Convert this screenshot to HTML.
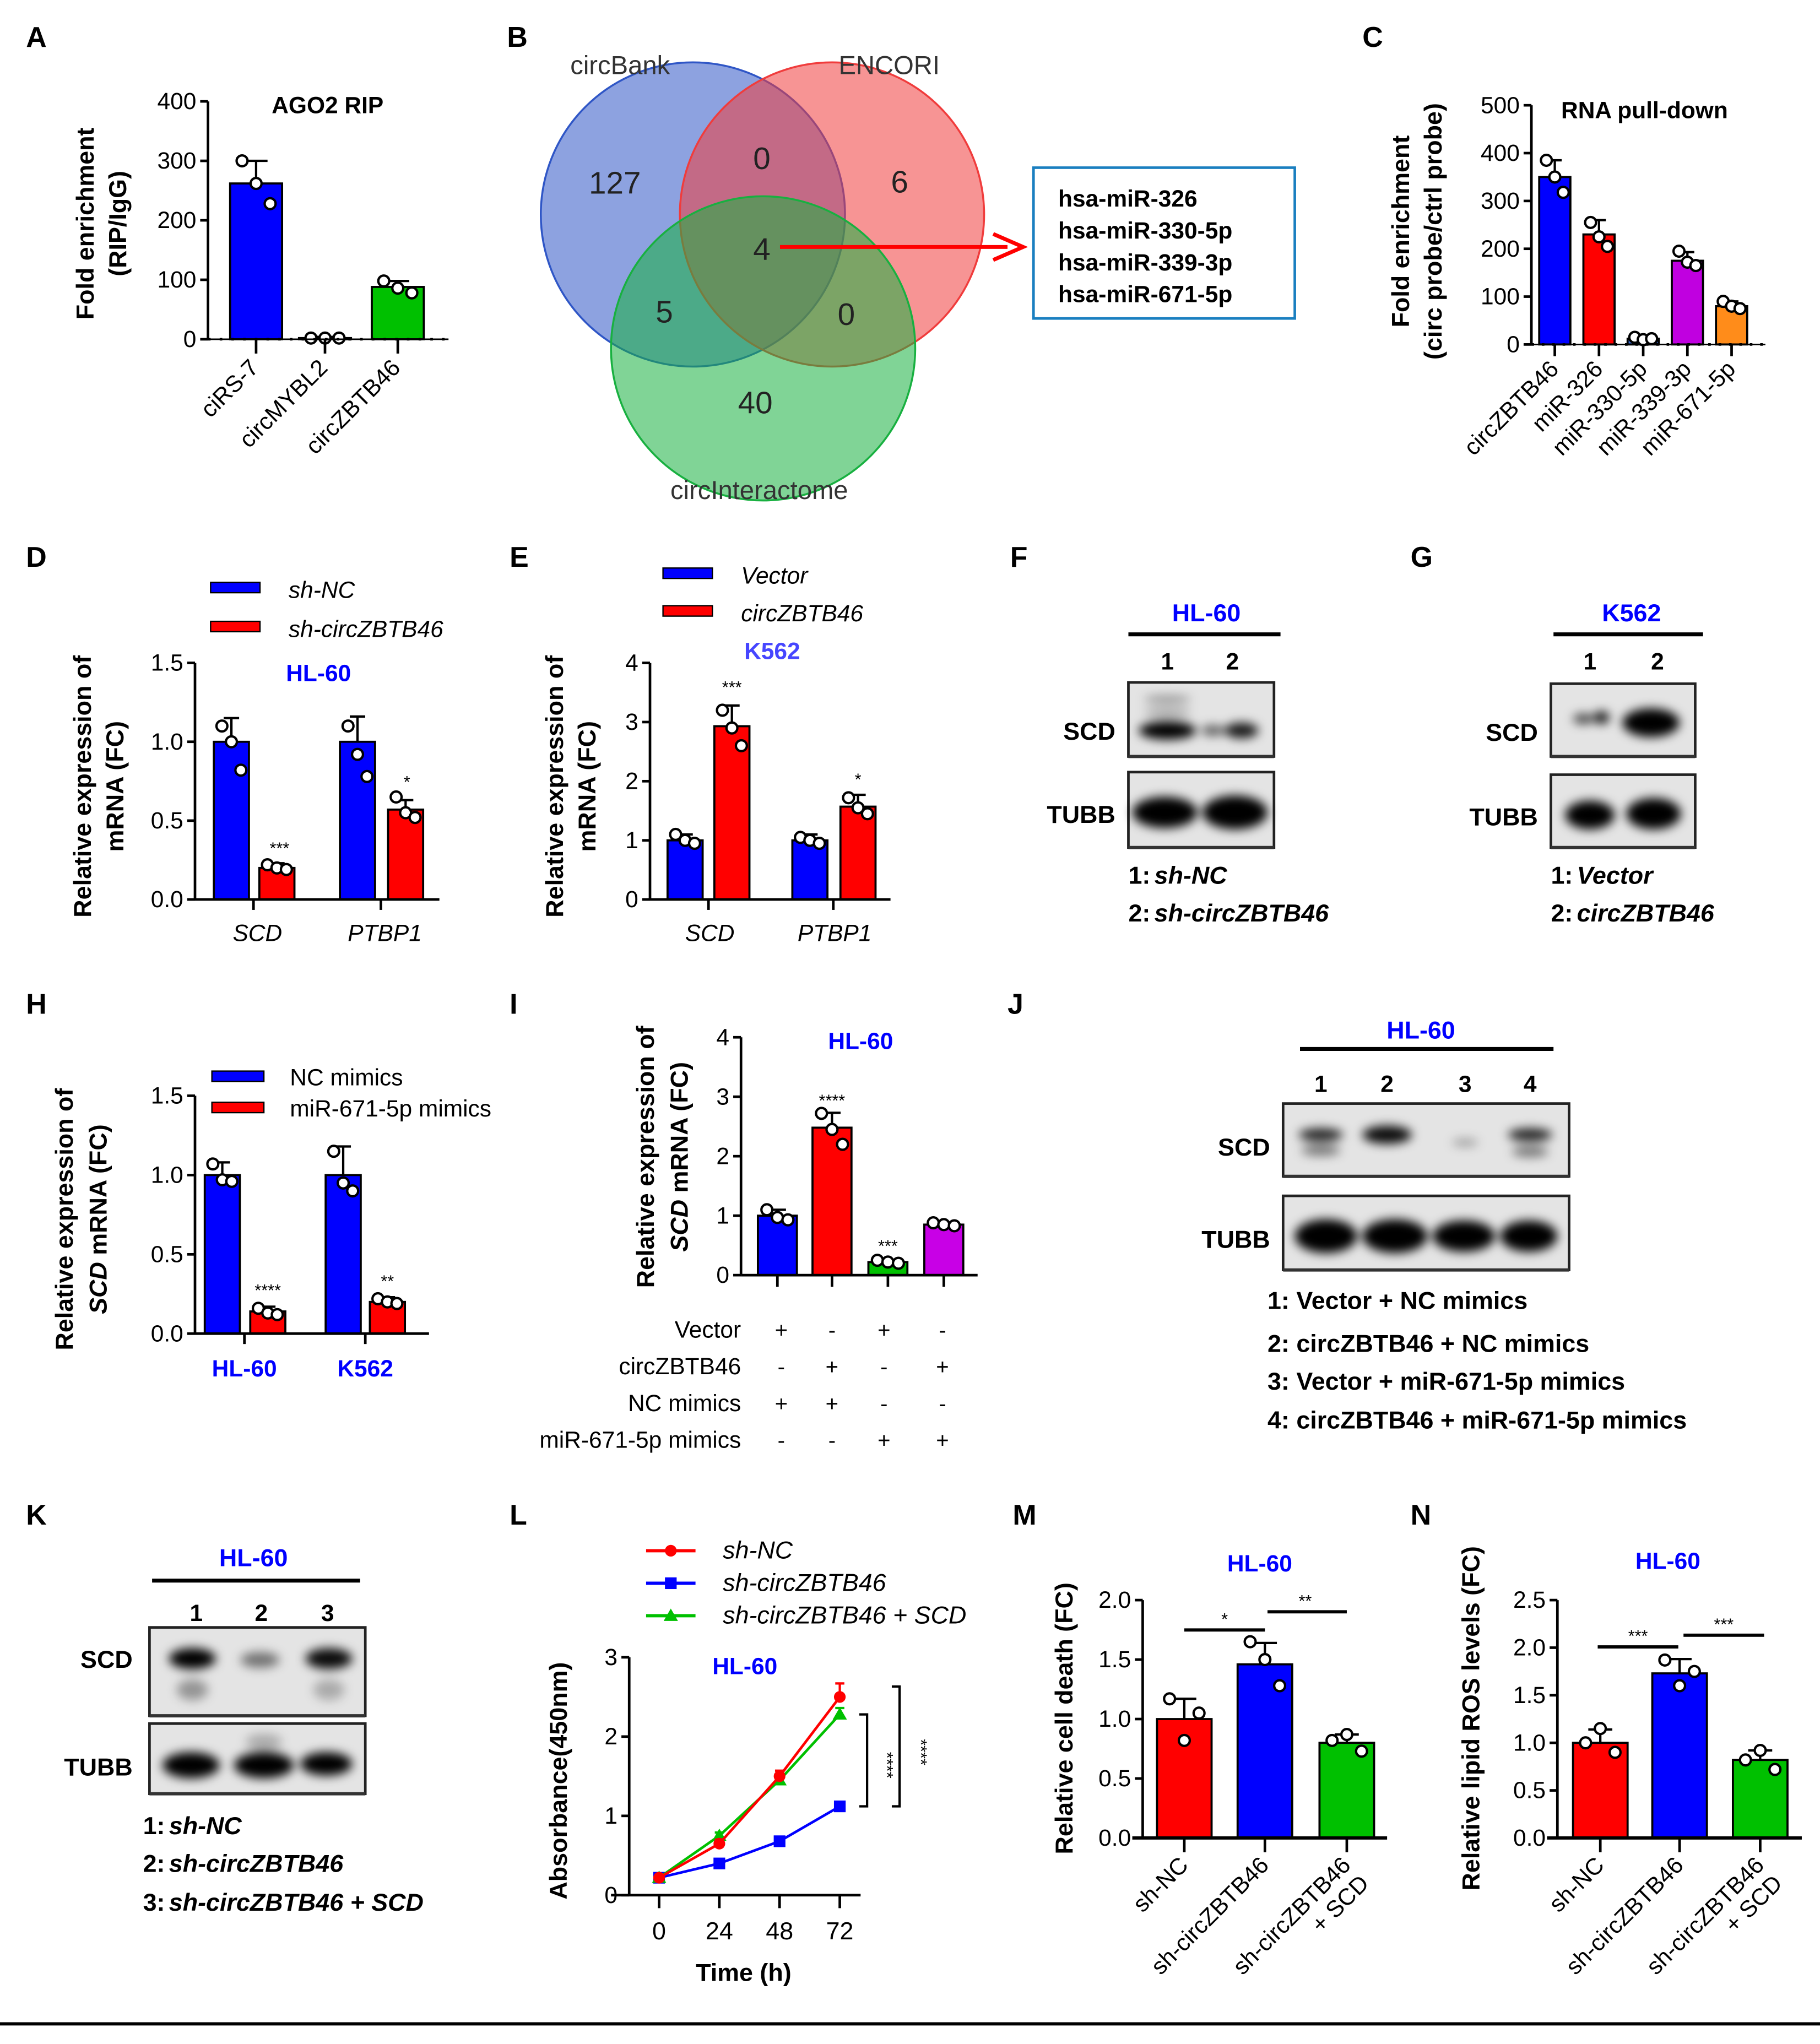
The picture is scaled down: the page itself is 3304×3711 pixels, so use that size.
<!DOCTYPE html>
<html><head><meta charset="utf-8">
<style>
html,body{margin:0;padding:0;background:#fff;}
svg{display:block;}
text{font-family:"Liberation Sans",Arial,sans-serif;}
</style></head>
<body>
<svg id="fig" xmlns="http://www.w3.org/2000/svg" width="3304" height="3711" viewBox="0 0 1400 1572.5" preserveAspectRatio="none">
<defs>
<filter id="blur2" x="-50%" y="-50%" width="200%" height="200%"><feGaussianBlur stdDeviation="2.2"/></filter>
<filter id="blur4" x="-50%" y="-50%" width="200%" height="200%"><feGaussianBlur stdDeviation="4"/></filter>
</defs>
</svg>
<script>
// ---------- data ----------
const aCats=['ciRS-7','circMYBL2','circZBTB46'];
const aVals=[262,2,88];
const aErr=[38,2,10];
const aPts=[[300,262,228],[2,2,2],[98,86,78]];
const aTicks=[0,100,200,300,400];

const cCats=['circZBTB46','miR-326','miR-330-5p','miR-339-3p','miR-671-5p'];
const cVals=[350,230,12,175,80];
const cErr=[35,30,5,18,10];
const cPts=[[385,350,318],[255,225,205],[15,10,12],[195,172,165],[90,80,75]];
const cTicks=[0,100,200,300,400,500];

const dCats=['SCD','PTBP1'];
const dVals=[1.0,0.2,1.0,0.57];
const dErr=[0.15,0.03,0.16,0.06];
const dPts=[[1.1,1.0,0.82],[0.22,0.2,0.19],[1.1,0.92,0.78],[0.65,0.55,0.52]];
const dTicks=[0,0.5,1.0,1.5];

const eCats=['SCD','PTBP1'];
const eVals=[1.0,2.93,1.0,1.57];
const eErr=[0.1,0.35,0.1,0.2];
const ePts=[[1.1,1.0,0.95],[3.2,2.9,2.6],[1.05,1.0,0.95],[1.72,1.55,1.45]];
const eTicks=[0,1,2,3,4];

const hCats=['HL-60','K562'];
const hVals=[1.0,0.14,1.0,0.2];
const hErr=[0.08,0.03,0.18,0.03];
const hPts=[[1.07,0.97,0.96],[0.16,0.13,0.12],[1.15,0.95,0.9],[0.22,0.2,0.19]];
const hTicks=[0,0.5,1.0,1.5];

const iVals=[1.0,2.48,0.22,0.85];
const iErr=[0.1,0.25,0.03,0.03];
const iPts=[[1.1,0.97,0.93],[2.72,2.45,2.2],[0.25,0.22,0.2],[0.88,0.85,0.83]];
const iTicks=[0,1,2,3,4];
const iRows=['Vector','circZBTB46','NC mimics','miR-671-5p mimics'];
const iSigns=[['+','-','+','-'],['-','+','-','+'],['+','+','-','-'],['-','-','+','+']];

const lTimes=[0,24,48,72];
const lRed=[0.22,0.65,1.5,2.5];
const lBlue=[0.22,0.4,0.68,1.12];
const lGreen=[0.22,0.75,1.45,2.28];
const lRedErr=[0.02,0.05,0.07,0.17];
const lBlueErr=[0.02,0.04,0.05,0.05];
const lGreenErr=[0.02,0.04,0.05,0.08];
const lTicks=[0,1,2,3];

const mCats=['sh-NC','sh-circZBTB46','sh-circZBTB46 + SCD'];
const mVals=[1.0,1.46,0.8];
const mErr=[0.17,0.18,0.07];
const mPts=[[1.17,0.82,1.05],[1.65,1.5,1.28],[0.82,0.87,0.73]];
const mTicks=[0,0.5,1.0,1.5,2.0];

const nCats=['sh-NC','sh-circZBTB46','sh-circZBTB46 + SCD'];
const nVals=[1.0,1.73,0.82];
const nErr=[0.14,0.15,0.1];
const nPts=[[1.0,1.15,0.9],[1.87,1.6,1.75],[0.82,0.92,0.72]];
const nTicks=[0,0.5,1.0,1.5,2.0,2.5];

// ---------- helpers ----------
const NS='http://www.w3.org/2000/svg';
const svg=document.getElementById('fig');
function mk(tag,attrs,parent){
  const e=document.createElementNS(NS,tag);
  for(const k in attrs) e.setAttribute(k,attrs[k]);
  (parent||svg).appendChild(e);
  return e;
}
function txt(s,x,y,size,opts,name){
  opts=opts||{};
  const t=mk('text',{x:x,y:y,'font-size':size,'text-anchor':opts.anchor||'start',fill:opts.fill||'#000','font-weight':opts.bold?'bold':'normal','font-style':opts.italic?'italic':'normal'});
  if(opts.rot!==undefined) t.setAttribute('transform','rotate('+opts.rot+' '+x+' '+y+')');
  if(opts.ls) t.setAttribute('letter-spacing',opts.ls);
  t.textContent=s;
  
  
  return t;
}
function line(x1,y1,x2,y2,w,col,name,dash){
  const l=mk('line',{x1:x1,y1:y1,x2:x2,y2:y2,stroke:col||'#000','stroke-width':w||2});
  if(dash) l.setAttribute('stroke-dasharray',dash);
  
  
  return l;
}
function rect(x,y,w,h,fill,name,stroke,sw){
  const r=mk('rect',{x:x,y:y,width:w,height:h,fill:fill,stroke:stroke||'none','stroke-width':sw||0});
  
  
  return r;
}
function dot(x,y,name){
  const c=mk('circle',{cx:x,cy:y,r:4.2,fill:'#fff',stroke:'#000','stroke-width':1.8});
  
  
  return c;
}
function panelLetter(s,x,y){
  txt(s,x,y,22,{bold:true},'panel-label-'+s.toLowerCase());
}
function yAxis(x,yTop,yBot,vmax,ticks,fmt,name){
  const sc=v=>yBot-(v/vmax)*(yBot-yTop);
  line(x,yTop,x,yBot,2,'#000',name+'-y-axis');
  ticks.forEach(t=>{
    line(x-6,sc(t),x,sc(t),2,'#000',name+'-y-tick');
    txt(fmt(t),x-9,sc(t)+6,18,{anchor:'end'},name+'-y-tick-label');
  });
  return sc;
}
function bars(xs,vals,errs,pts,w,colors,sc,name){
  xs.forEach((cx,i)=>{
    const y0=sc(0), yv=sc(vals[i]);
    const ye=sc(vals[i]+errs[i]);
    line(cx,ye,cx,yv,1.8,'#000',name+'-error-bar');
    line(cx-w*0.22,ye,cx+w*0.22,ye,1.8,'#000',name+'-error-cap');
    const b=mk('rect',{x:cx-w/2,y:yv,width:w,height:Math.max(0,y0-yv),fill:colors[i],stroke:'#000','stroke-width':1.6});
    
    
    pts[i].forEach((p,j)=>dot(cx+(j-1)*w*0.27,sc(p),name+'-point'));
  });
}

// ---------- Panel A ----------
panelLetter('A',20,36);
{
  const sc=yAxis(160,78,261,400,aTicks,v=>String(v),'a');
  const xs=[197,250,306];
  bars(xs,aVals,aErr,aPts,40,['#0000ff','#0000ff','#00c000'],sc,'a');
  line(160,261,345,261,2,'#000','a-x-axis','2 7');
  line(160,261,345,261,1.2,'#000','a-x-axis-base');
  xs.forEach((x,i)=>{line(x,261,x,272,2,'#000','a-x-tick');txt(aCats[i],x+3,284,18,{anchor:'end',rot:-45},'a-x-label');});
  txt('AGO2 RIP',252,87,18,{bold:true,anchor:'middle'},'a-title');
  txt('Fold enrichment',72,172,19,{bold:true,anchor:'middle',rot:-90},'a-y-title');
  txt('(RIP/IgG)',97,172,19,{bold:true,anchor:'middle',rot:-90},'a-y-title-2');
}

// ---------- Panel B ----------
panelLetter('B',390,36);
{
  const circ=(cx,cy,col,nm)=>{const c=mk('circle',{cx:cx,cy:cy,r:117,fill:col,'fill-opacity':0.55,stroke:col,'stroke-width':1.5});};
  circ(533,165,'#2f56c6','venn-circbank');
  circ(640,165,'#f03c3c','venn-encori');
  circ(587,268,'#18b040','venn-circinteractome');
  txt('circBank',477,57,20,{anchor:'middle',fill:'#333'},'venn-label-circbank');
  txt('ENCORI',684,57,20,{anchor:'middle',fill:'#333'},'venn-label-encori');
  txt('circInteractome',584,384,20,{anchor:'middle',fill:'#333'},'venn-label-circinteractome');
  [['127',473,149],['0',586,130],['6',692,148],['4',586,200],['5',511,248],['0',651,250],['40',581,318]].forEach(a=>txt(a[0],a[1],a[2],24,{anchor:'middle',fill:'#222'},'venn-count'));
  line(600,190,775,190,3,'#ff0000','venn-arrow');
  const ar=mk('path',{d:'M764,180 L787,190 L764,200',fill:'none',stroke:'#ff0000','stroke-width':3});
  
  
  rect(795,129,201,116,'#fff','mirna-box','#1a7fc0',2);
  ['hsa-miR-326','hsa-miR-330-5p','hsa-miR-339-3p','hsa-miR-671-5p'].forEach((s,i)=>txt(s,814,159+i*24.5,18,{bold:true},'mirna-name'));
}

// ---------- Panel C ----------
panelLetter('C',1048,36);
{
  const sc=yAxis(1178,81,265,500,cTicks,v=>String(v),'c');
  const xs=[1196,1230,1264,1298,1332];
  bars(xs,cVals,cErr,cPts,24,['#0000ff','#ff0000','#3a6fe0','#c000e0','#ff8c1a'],sc,'c');
  line(1178,265,1358,265,1.2,'#000','c-x-axis');
  line(1178,265,1358,265,2,'#000','c-x-axis-dots','2 6');
  xs.forEach((x,i)=>{line(x,265,x,274,2,'#000','c-x-tick');txt(cCats[i],x+4,285,18,{anchor:'end',rot:-45},'c-x-label');});
  txt('RNA pull-down',1265,91,18,{bold:true,anchor:'middle'},'c-title');
  txt('Fold enrichment',1084,178,19,{bold:true,anchor:'middle',rot:-90},'c-y-title');
  txt('(circ probe/ctrl probe)',1109,178,19,{bold:true,anchor:'middle',rot:-90},'c-y-title-2');
}

// ---------- Panel D ----------
panelLetter('D',20,436);
{
  rect(162,448,38,8,'#0000ff','d-legend-swatch-blue','#000',1);
  txt('sh-NC',222,460,18,{italic:true},'d-legend-label');
  rect(162,478,38,8,'#ff0000','d-legend-swatch-red','#000',1);
  txt('sh-circZBTB46',222,490,18,{italic:true},'d-legend-label');
  const sc=yAxis(150,510,692,1.5,dTicks,v=>v.toFixed(1),'d');
  bars([178,213,275,312],dVals,dErr,dPts,27,['#0000ff','#ff0000','#0000ff','#ff0000'],sc,'d');
  line(150,692,338,692,2,'#000','d-x-axis');
  [[195,'SCD'],[293,'PTBP1']].forEach((a,i)=>{line(a[0],692,a[0],700,2,'#000','d-x-tick');txt(dCats[i],a[0]+3,724,18,{italic:true,anchor:'middle'},'d-x-label');});
  txt('HL-60',245,524,18,{bold:true,anchor:'middle',fill:'#0000ff'},'d-cell-line');
  txt('***',215,657,13,{anchor:'middle'},'d-sig');
  txt('*',313,606,13,{anchor:'middle'},'d-sig');
  txt('Relative expression of',70,605,19,{bold:true,anchor:'middle',rot:-90},'d-y-title');
  txt('mRNA (FC)',95,605,19,{bold:true,anchor:'middle',rot:-90},'d-y-title-2');
}

// ---------- Panel E ----------
panelLetter('E',392,436);
{
  rect(510,437,38,8,'#0000ff','e-legend-swatch-blue','#000',1);
  txt('Vector',570,449,18,{italic:true},'e-legend-label');
  rect(510,466,38,8,'#ff0000','e-legend-swatch-red','#000',1);
  txt('circZBTB46',570,478,18,{italic:true},'e-legend-label');
  txt('K562',594,507,18,{bold:true,anchor:'middle',fill:'#4646ff'},'e-cell-line');
  const sc=yAxis(500,510,692,4,eTicks,v=>String(v),'e');
  bars([527,563,623,660],eVals,eErr,ePts,27,['#0000ff','#ff0000','#0000ff','#ff0000'],sc,'e');
  line(500,692,685,692,2,'#000','e-x-axis');
  [[545,'SCD'],[641,'PTBP1']].forEach((a,i)=>{line(a[0],692,a[0],700,2,'#000','e-x-tick');txt(eCats[i],a[0]+1,724,18,{italic:true,anchor:'middle'},'e-x-label');});
  txt('***',563,533,13,{anchor:'middle'},'e-sig');
  txt('*',660,604,13,{anchor:'middle'},'e-sig');
  txt('Relative expression of',433,605,19,{bold:true,anchor:'middle',rot:-90},'e-y-title');
  txt('mRNA (FC)',458,605,19,{bold:true,anchor:'middle',rot:-90},'e-y-title-2');
}

// ---------- blot helper ----------
function blot(x,y,w,h,bands,name){
  rect(x,y,w,h,'#e4e4e4',name+'-membrane','#222',2);
  const g=mk('g',{filter:'url(#blur4)'});
  
  
  bands.forEach(b=>{
    const e=mk('ellipse',{cx:b[0],cy:b[1],rx:b[2],ry:b[3],fill:'#000','fill-opacity':b[4]},g);
    
    
  });
  line(x,y+h,x+w,y+h,2.5,'#333',name+'-edge');
}

// ---------- Panel F ----------
panelLetter('F',777,436);
{
  txt('HL-60',928,478,19,{bold:true,anchor:'middle',fill:'#0000ff'},'f-cell-line');
  line(868,488,985,488,3,'#000','f-bar');
  txt('1',898,515,18,{bold:true,anchor:'middle'},'f-lane');
  txt('2',948,515,18,{bold:true,anchor:'middle'},'f-lane');
  blot(868,525,112,57,[[898,562,22,7,1],[898,538,18,3,0.35],[898,548,18,3,0.3],[933,562,9,4,0.6],[955,562,13,6,0.9]],'f-scd');
  blot(868,594,112,58,[[896,625,25,12,1],[950,625,25,13,1]],'f-tubb');
  txt('SCD',858,569,19,{bold:true,anchor:'end'},'f-scd-label');
  txt('TUBB',858,633,19,{bold:true,anchor:'end'},'f-tubb-label');
  txt('1: ',868,680,19,{bold:true},'f-key');
  txt('sh-NC',888,680,19,{bold:true,italic:true},'f-key');
  txt('2: ',868,709,19,{bold:true},'f-key');
  txt('sh-circZBTB46',888,709,19,{bold:true,italic:true},'f-key');
}

// ---------- Panel G ----------
panelLetter('G',1085,436);
{
  txt('K562',1255,478,19,{bold:true,anchor:'middle',fill:'#0000ff'},'g-cell-line');
  line(1195,488,1310,488,3,'#000','g-bar');
  txt('1',1223,515,18,{bold:true,anchor:'middle'},'g-lane');
  txt('2',1275,515,18,{bold:true,anchor:'middle'},'g-lane');
  blot(1193,526,111,56,[[1218,553,8,4,0.7],[1232,552,6,5,0.9],[1270,556,22,11,1]],'g-scd');
  blot(1193,596,111,56,[[1223,627,19,11,1],[1272,626,21,12,1]],'g-tubb');
  txt('SCD',1183,570,19,{bold:true,anchor:'end'},'g-scd-label');
  txt('TUBB',1183,635,19,{bold:true,anchor:'end'},'g-tubb-label');
  txt('1: ',1193,680,19,{bold:true},'g-key');
  txt('Vector',1213,680,19,{bold:true,italic:true},'g-key');
  txt('2: ',1193,709,19,{bold:true},'g-key');
  txt('circZBTB46',1213,709,19,{bold:true,italic:true},'g-key');
}

// ---------- Panel H ----------
panelLetter('H',20,780);
{
  rect(163,824,40,8,'#0000ff','h-legend-swatch-blue','#000',1);
  txt('NC mimics',223,835,18,{},'h-legend-label');
  rect(163,848,40,8,'#ff0000','h-legend-swatch-red','#000',1);
  txt('miR-671-5p mimics',223,859,18,{},'h-legend-label');
  const sc=yAxis(150,843,1026,1.5,hTicks,v=>v.toFixed(1),'h');
  bars([171,206,264,298],hVals,hErr,hPts,27,['#0000ff','#ff0000','#0000ff','#ff0000'],sc,'h');
  line(150,1026,330,1026,2,'#000','h-x-axis');
  [[188,'HL-60'],[281,'K562']].forEach((a,i)=>{line(a[0],1026,a[0],1034,2,'#000','h-x-tick');txt(hCats[i],a[0],1059,18,{bold:true,anchor:'middle',fill:'#0000ff'},'h-x-label');});
  txt('****',206,997,13,{anchor:'middle'},'h-sig');
  txt('**',298,990,13,{anchor:'middle'},'h-sig');
  txt('Relative expression of',56,938,19,{bold:true,anchor:'middle',rot:-90},'h-y-title');
  const t=txt('',82,938,19,{bold:true,anchor:'middle',rot:-90},'h-y-title-2');
  t.innerHTML='<tspan font-style="italic">SCD</tspan> mRNA (FC)';
}

// ---------- Panel I ----------
panelLetter('I',392,780);
{
  const sc=yAxis(570,798,981,4,iTicks,v=>String(v),'i');
  const xs=[598,640,683,726];
  bars(xs,iVals,iErr,iPts,30,['#0000ff','#ff0000','#00c000','#c800e6'],sc,'i');
  line(570,981,752,981,2,'#000','i-x-axis');
  xs.forEach(x=>line(x,981,x,990,2,'#000','i-x-tick'));
  txt('HL-60',662,807,18,{bold:true,anchor:'middle',fill:'#0000ff'},'i-cell-line');
  txt('****',640,851,13,{anchor:'middle'},'i-sig');
  txt('***',683,963,13,{anchor:'middle'},'i-sig');
  iRows.forEach((r,ri)=>{
    const y=1029+ri*28.3;
    txt(r,570,y,18,{anchor:'end'},'i-condition-label');
    [601,640,680,725].forEach((x,ci)=>txt(iSigns[ri][ci],x,y,17,{anchor:'middle'},'i-condition-sign'));
  });
  txt('Relative expression of',503,890,19,{bold:true,anchor:'middle',rot:-90},'i-y-title');
  const t=txt('',529,890,19,{bold:true,anchor:'middle',rot:-90},'i-y-title-2');
  t.innerHTML='<tspan font-style="italic">SCD</tspan> mRNA (FC)';
}

// ---------- Panel J ----------
panelLetter('J',775,780);
{
  txt('HL-60',1093,799,19,{bold:true,anchor:'middle',fill:'#0000ff'},'j-cell-line');
  line(1000,807,1195,807,3,'#000','j-bar');
  [1016,1067,1127,1177].forEach((x,i)=>txt(String(i+1),x,840,18,{bold:true,anchor:'middle'},'j-lane'));
  blot(987,849,220,56,[[1016,873,17,5,0.85],[1016,885,15,4,0.5],[1067,873,19,7,0.95],[1127,879,10,3,0.3],[1177,873,17,5,0.85],[1177,886,14,4,0.5]],'j-scd');
  blot(987,920,220,57,[[1020,951,24,13,1],[1073,951,25,13,1],[1126,951,24,12,1],[1176,951,22,12,1]],'j-tubb');
  txt('SCD',977,889,19,{bold:true,anchor:'end'},'j-scd-label');
  txt('TUBB',977,960,19,{bold:true,anchor:'end'},'j-tubb-label');
  ['1: Vector + NC mimics','2: circZBTB46 + NC mimics','3: Vector + miR-671-5p mimics','4: circZBTB46 + miR-671-5p mimics'].forEach((s,i)=>txt(s,975,[1007,1040,1069,1099][i],19,{bold:true},'j-key'));
}

// ---------- Panel K ----------
panelLetter('K',20,1173);
{
  txt('HL-60',195,1205,19,{bold:true,anchor:'middle',fill:'#0000ff'},'k-cell-line');
  line(117,1216,277,1216,3,'#000','k-bar');
  [151,201,252].forEach((x,i)=>txt(String(i+1),x,1247,18,{bold:true,anchor:'middle'},'k-lane'));
  blot(115,1252,166,68,[[148,1276,18,8,1],[148,1300,12,8,0.35],[200,1277,15,6,0.5],[253,1276,18,8,0.95],[253,1300,12,8,0.25]],'k-scd');
  blot(115,1326,166,54,[[147,1358,22,10,1],[203,1358,23,10,1],[251,1357,20,9,1],[203,1340,14,6,0.25]],'k-tubb');
  txt('SCD',102,1283,19,{bold:true,anchor:'end'},'k-scd-label');
  txt('TUBB',102,1366,19,{bold:true,anchor:'end'},'k-tubb-label');
  txt('1: ',110,1411,19,{bold:true},'k-key');
  txt('sh-NC',130,1411,19,{bold:true,italic:true},'k-key');
  txt('2: ',110,1440,19,{bold:true},'k-key');
  txt('sh-circZBTB46',130,1440,19,{bold:true,italic:true},'k-key');
  txt('3: ',110,1470,19,{bold:true},'k-key');
  txt('sh-circZBTB46 + SCD',130,1470,19,{bold:true,italic:true},'k-key');
}

// ---------- Panel L ----------
function marker(kind,x,y,col,nm){
  let m;
  if(kind==='sq') m=mk('rect',{x:x-4.5,y:y-4.5,width:9,height:9,fill:col});
  else if(kind==='tri') m=mk('path',{d:'M'+x+','+(y-5.5)+' L'+(x+5.5)+','+(y+4)+' L'+(x-5.5)+','+(y+4)+' Z',fill:col});
  else m=mk('circle',{cx:x,cy:y,r:4.5,fill:col});
  
  
}
panelLetter('L',392,1173);
{
  const leg=[['#ff0000','sh-NC',1193,'ci'],['#0000ff','sh-circZBTB46',1218,'sq'],['#00c000','sh-circZBTB46 + SCD',1243,'tri']];
  leg.forEach(l=>{line(497,l[2],535,l[2],2.5,l[0],'l-legend-line');marker(l[3],516,l[2],l[0],'l-legend-marker');txt(l[1],556,l[2]+6,19,{italic:true},'l-legend-label');});
  const sc=yAxis(484,1275,1458,3,lTicks,v=>String(v),'l');
  const xsc=t=>507+(t/72)*139;
  line(470,1458,662,1458,2,'#000','l-x-axis');
  lTimes.forEach(t=>{line(xsc(t),1458,xsc(t),1468,2,'#000','l-x-tick');txt(String(t),xsc(t),1492,19,{anchor:'middle'},'l-x-tick-label');});
  const series=[[lBlue,lBlueErr,'#0000ff','sh-circzbtb46','sq'],[lGreen,lGreenErr,'#00c000','sh-circzbtb46-scd','tri'],[lRed,lRedErr,'#ff0000','sh-nc','ci']];
  series.forEach(s=>{
    const p=mk('polyline',{points:lTimes.map((t,i)=>xsc(t)+','+sc(s[0][i])).join(' '),fill:'none',stroke:s[2],'stroke-width':2});
    
    
    lTimes.forEach((t,i)=>{
      line(xsc(t),sc(s[0][i]+s[1][i]),xsc(t),sc(s[0][i]),1.8,s[2],'l-error-bar');
      line(xsc(t)-3.5,sc(s[0][i]+s[1][i]),xsc(t)+3.5,sc(s[0][i]+s[1][i]),1.8,s[2],'l-error-cap');
      marker(s[4],xsc(t),sc(s[0][i]),s[2],'l-point-'+s[3]);
    });
  });
  const yb=sc(lBlue[3]);
  const bk=(x,y1,nm)=>{const p=mk('path',{d:'M'+(x-6)+','+y1+' H'+x+' V'+yb+' H'+(x-6),fill:'none',stroke:'#000','stroke-width':1.8});};
  bk(667,sc(lGreen[3]),'l-sig-bracket-inner');
  bk(692,sc(lRed[3])-8,'l-sig-bracket-outer');
  txt('****',678,1358,13,{anchor:'middle',rot:90},'l-sig');
  txt('****',704,1348,13,{anchor:'middle',rot:90},'l-sig');
  txt('HL-60',573,1288,18,{bold:true,anchor:'middle',fill:'#0000ff'},'l-cell-line');
  txt('Time (h)',572,1524,19,{bold:true,anchor:'middle'},'l-x-title');
  txt('Absorbance(450nm)',436,1370,19,{bold:true,anchor:'middle',rot:-90},'l-y-title');
}

// ---------- Panel M / N ----------
function cellChart(cats,vals,errs,pts,ticks,vmax,ax,xs,xend,name,ytitle,ytx){
  const sc=yAxis(ax,1231,1414,vmax,ticks,v=>v.toFixed(1),name);
  bars(xs,vals,errs,pts,42,['#ff0000','#0000ff','#00c000'],sc,name);
  line(ax-8,1414,xend,1414,2.5,'#000',name+'-x-axis');
  xs.forEach((x,i)=>{
    line(x,1414,x,1425,2,'#000',name+'-x-tick');
    if(i<2) txt(cats[i],x+4,1436,18,{anchor:'end',rot:-45},name+'-x-label');
    else {txt('sh-circZBTB46',x+4,1436,18,{anchor:'end',rot:-45},name+'-x-label');txt('+ SCD',x+18,1450,18,{anchor:'end',rot:-45},name+'-x-label');}
  });
  txt(ytitle,ytx,1322,19,{bold:true,anchor:'middle',rot:-90},name+'-y-title');
  return sc;
}
panelLetter('M',779,1173);
cellChart(mCats,mVals,mErr,mPts,mTicks,2.0,879,[911,973,1036],1067,'m','Relative cell death (FC)',825);
txt('HL-60',969,1209,18,{bold:true,anchor:'middle',fill:'#0000ff'},'m-cell-line');
line(911,1254,973,1254,2.5,'#000','m-sig-line');
line(975,1240,1036,1240,2.5,'#000','m-sig-line');
txt('*',942,1250,13,{anchor:'middle'},'m-sig');
txt('**',1004,1236,13,{anchor:'middle'},'m-sig');

panelLetter('N',1085,1173);
cellChart(nCats,nVals,nErr,nPts,nTicks,2.5,1198,[1231,1292,1354],1386,'n','Relative lipid ROS levels (FC)',1138);
txt('HL-60',1283,1207,18,{bold:true,anchor:'middle',fill:'#0000ff'},'n-cell-line');
line(1229,1267,1291,1267,2.5,'#000','n-sig-line');
line(1295,1258,1357,1258,2.5,'#000','n-sig-line');
txt('***',1260,1263,13,{anchor:'middle'},'n-sig');
txt('***',1326,1254,13,{anchor:'middle'},'n-sig');

// bottom rule
line(0,1557,1400,1557,2.5,'#000','bottom-rule');
</script>
</body></html>
